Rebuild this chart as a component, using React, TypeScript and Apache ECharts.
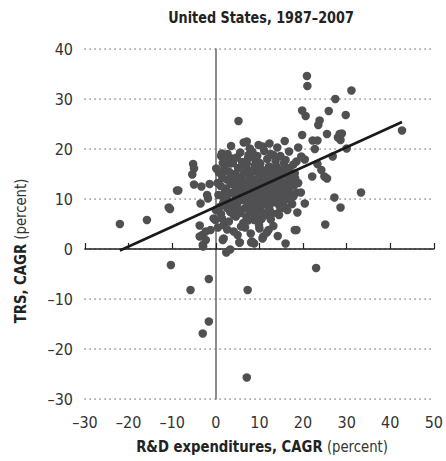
import React, { useEffect, useRef } from "react";
import * as echarts from "echarts";

const chartTitle = "United States, 1987–2007";
const xTitleBold = "R&D expenditures, CAGR";
const yTitleBold = "TRS, CAGR";
const unitText = " (percent)";

const xMin = -30;
const xMax = 50;
const yMin = -30;
const yMax = 40;
const tickStep = 10;

// R&D CAGR (x) vs TRS CAGR (y), percent
const outerPoints: number[][] = [
  [-22, 5], [-15.8, 5.8], [-10.8, 8.3], [-10.5, 8], [-8.9, 11.7], [-8.6, 11.7],
  [-5.2, 17], [-5, 16.1], [-5.4, 14.9], [-5, 12.9], [-3.3, 12.5], [-1.4, 13],
  [-2, 10.8], [-1.8, 10.1], [-3.5, 9.1], [-3.7, 4.7], [-3.1, 2.8], [-3.7, 2.5],
  [-2.3, 3.5], [-1.2, 3.8], [-3, 0.8], [-2.3, 1.8], [-2.9, 0.5],
  [0.1, 16.1], [1.4, 19.1], [1.8, 18.8], [5.2, 25.6], [6.4, 21.3], [7.1, 21.5],
  [9.8, 20.8], [12.3, 21.1], [15.8, 21.6], [1.8, 2.1], [2.4, -0.7], [3.3, -0.1],
  [5.4, 1.3], [8.3, 1.5], [10.7, 2.1], [16, 1.1], [18.1, 3.8], [-0.1, 5.8],
  [1.6, 1.8], [8.8, 1.1],
  [-10.3, -3.2], [-1.6, -6], [-5.8, -8.2], [7.3, -8.2], [-1.6, -14.5], [-3, -16.9],
  [7.1, -25.7], [23, -3.8],
  [20.9, 34.6], [21, 32.6], [27.4, 30], [31.1, 31.7], [19.8, 27.7], [20.6, 26.6],
  [25.9, 27.6], [29.8, 26.8], [23.8, 25.7], [23.5, 24.8], [19.8, 22.8], [25.5, 23],
  [28.4, 23], [28.9, 23.1], [28, 22.3], [28.6, 21.8], [22.2, 21.7], [23.3, 21.7],
  [22.7, 20], [18.9, 20.3], [16.8, 19.5], [30, 20.1], [26.8, 18.5], [19.6, 18.5],
  [20.4, 17.9], [16, 17.8], [18.5, 17.5], [23.3, 17], [24.2, 15.8], [24.9, 14.5],
  [25.5, 14.1], [22.1, 14.5], [17.7, 15], [18.2, 14.1], [18.9, 13.2], [17.9, 13],
  [14.7, 15.8], [14.9, 13.5], [18.5, 11.3], [19.5, 11.3], [33.3, 11.3], [27.2, 10.3],
  [20.4, 9.1], [28.6, 8.3], [16, 8.3], [18.7, 7.3], [14.3, 7.2], [25.1, 4.9],
  [18.5, 3.8], [42.7, 23.7], [13.2, 18.8], [13.9, 16.5], [10.2, 17.1], [18.1, 15.1],
  [17.3, 14.8], [16.6, 13.6], [13.9, 11.5], [11.3, 6.8], [9, 6.5], [10, 4.1],
  [11.7, 3.3], [10.9, 2.5], [3.7, 18.1], [3.3, 17.1], [7.5, 18.8], [7.1, 17.1],
  [1.4, 15.1], [0, 7.8], [-0.5, 6.1], [1.4, 6.1], [1.8, 4.8], [4.1, 3.5], [5.8, 4.5],
  [1.2, 18.6], [3.3, 17.8], [5.5, 1.3], [8.1, 1.3],
];

const clusterPoints: number[][] = [
  [1.5, 14.2], [2.3, 12.1], [2.8, 9.6], [3.1, 15.4], [3.6, 11.2], [4.0, 13.6],
  [4.2, 8.3], [4.7, 10.4], [5.1, 16.2], [5.3, 12.8], [5.6, 7.2], [5.9, 14.6],
  [6.2, 9.8], [6.4, 11.9], [6.8, 13.4], [7.0, 6.4], [7.2, 15.8], [7.5, 10.6],
  [7.7, 8.9], [8.0, 12.4], [8.2, 14.1], [8.5, 11.2], [8.7, 9.5], [8.9, 16.7],
  [9.2, 13.0], [9.4, 7.6], [9.6, 10.3], [9.9, 12.0], [10.1, 14.6], [10.4, 8.7],
  [10.6, 11.5], [10.9, 13.5], [11.2, 9.9], [11.4, 15.3], [11.7, 12.6], [12.0, 10.8],
  [12.3, 7.9], [12.5, 14.0], [12.8, 11.8], [13.1, 9.3], [13.4, 16.1], [13.6, 12.9],
  [14.0, 10.5], [14.3, 13.8], [14.6, 8.6], [15.0, 11.7], [15.3, 15.0], [15.8, 12.2],
  [16.2, 10.0], [16.6, 13.5],
  [0.6, 10.8], [0.9, 8.4], [1.1, 12.6], [1.9, 10.1], [2.0, 16.3], [2.5, 13.9],
  [3.3, 7.4], [3.8, 9.0], [4.4, 15.0], [4.9, 12.0], [5.0, 9.3], [5.5, 10.9],
  [5.8, 13.1], [6.0, 17.4], [6.6, 8.1], [6.9, 11.0], [7.3, 12.9], [7.8, 14.8],
  [8.3, 10.0], [8.6, 13.5], [9.0, 11.8], [9.3, 15.5], [9.7, 9.0], [10.0, 17.2],
  [10.3, 12.8], [10.8, 10.2], [11.0, 6.8], [11.5, 11.0], [11.9, 13.8], [12.2, 16.5],
  [12.7, 9.7], [13.0, 12.2], [13.3, 14.7], [13.8, 11.3], [14.2, 9.2], [14.8, 14.3],
  [15.5, 9.4], [16.0, 16.4], [16.8, 11.3], [17.2, 14.2], [17.5, 9.0], [18.0, 12.8],
  [3.0, 5.5], [4.6, 6.5], [6.3, 5.2], [8.8, 5.8], [9.9, 4.8], [12.6, 5.9],
  [14.5, 6.8], [7.4, 18.2], [9.5, 18.6], [11.8, 18.0], [13.7, 17.6], [4.8, 18.3],
  [2.7, 19.0], [8.4, 19.4], [15.6, 17.2], [6.7, 4.3], [13.2, 4.6], [1.2, 7.0],
  [16.4, 7.8], [11.1, 19.6], [3.9, 17.2], [5.2, 8.0], [7.9, 7.3], [10.5, 6.0],
  [12.1, 8.5], [14.9, 10.6], [2.1, 11.4], [0.4, 13.2],
  [2.6, 8.2], [3.4, 13.0], [4.3, 10.9], [4.5, 12.4], [5.4, 14.0], [6.1, 12.6],
  [6.5, 15.2], [7.1, 9.4], [7.6, 13.8], [8.1, 15.6], [8.4, 8.2], [9.1, 10.9],
  [9.5, 14.0], [10.2, 9.6], [10.7, 15.8], [11.3, 12.0], [11.6, 8.9], [12.4, 12.8],
  [12.9, 15.2], [13.5, 10.2], [14.1, 12.3], [14.4, 15.8], [15.2, 13.0], [15.7, 10.8],
  [16.3, 14.8], [17.0, 12.4], [17.8, 10.5], [6.9, 16.4], [5.7, 11.6], [3.9, 14.5],
  [2.9, 11.0], [1.7, 9.2], [9.8, 16.0], [11.9, 14.6], [13.9, 13.4], [8.9, 7.0],
  [10.6, 7.4], [7.4, 5.7], [4.1, 6.8], [12.9, 7.1], [15.1, 8.2], [0.7, 15.3],
  [1.6, 17.2], [2.4, 17.8], [5.6, 19.3], [9.0, 17.9], [12.6, 19.0], [14.8, 18.6],
  [16.9, 16.2], [17.8, 16.9], [3.5, 20.6], [10.8, 20.5], [7.8, 20.1], [14.1, 20.3],
  [0.5, 4.3], [2.6, 3.9], [5.0, 2.8], [8.0, 3.1], [12.1, 3.8], [14.2, 2.6],
];

const trendLine: number[][] = [
  [-22, -0.3],
  [42.7, 25.4],
];

const FONT = "'Liberation Sans Narrow', 'DejaVu Sans Condensed', 'Roboto', sans-serif";

export default function App() {
  const ref = useRef<HTMLDivElement>(null);

  useEffect(() => {
    document.body.style.margin = "0";
    if (!ref.current) return;
    const chart = echarts.init(ref.current, undefined, { renderer: "svg" });

    const gridLeft = 85;
    const gridTop = 49;
    const gridWidth = 352;
    const gridHeight = 350;
    const negFmt = (v: number) => (v < 0 ? "–" + Math.abs(v) : String(v));

    chart.setOption({
      animation: false,
      backgroundColor: "#ffffff",
      textStyle: { fontFamily: FONT },
      grid: { left: gridLeft, top: gridTop, width: gridWidth, height: gridHeight, containLabel: false },
      xAxis: [
        {
          type: "value",
          min: xMin,
          max: xMax,
          interval: tickStep,
          position: "bottom",
          axisLine: { show: false, onZero: false },
          axisTick: { show: false },
          splitLine: { show: false },
          axisLabel: {
            fontFamily: FONT,
            fontSize: 16,
            color: "#333",
            margin: 15,
            formatter: negFmt,
          },
        },
        {
          type: "value",
          min: xMin,
          max: xMax,
          interval: tickStep,
          position: "bottom",
          axisLine: { show: true, onZero: true, lineStyle: { color: "#222", width: 1.5 } },
          axisTick: { show: true, inside: true, length: 6, lineStyle: { color: "#222", width: 1.2 } },
          axisLabel: { show: false },
          splitLine: { show: false },
        },
      ],
      yAxis: [
        {
          type: "value",
          min: yMin,
          max: yMax,
          interval: tickStep,
          axisLine: { show: false, onZero: false },
          axisTick: { show: false },
          axisLabel: {
            fontFamily: FONT,
            fontSize: 16,
            color: "#333",
            margin: 12,
            formatter: negFmt,
          },
          splitLine: {
            show: true,
            lineStyle: { color: "#9a9a9a", width: 1.7, type: [0.3, 4.7], cap: "round" },
          },
        },
        {
          type: "value",
          min: yMin,
          max: yMax,
          interval: tickStep,
          position: "left",
          axisLine: { show: true, onZero: true, lineStyle: { color: "#666", width: 1.5 } },
          axisTick: { show: false },
          axisLabel: { show: false },
          splitLine: { show: false },
        },
      ],
      graphic: [
        {
          type: "text",
          x: gridLeft + gridWidth / 2,
          y: 18,
          scaleX: 0.89,
          style: {
            text: chartTitle,
            fontFamily: FONT,
            fontWeight: "bold",
            fontSize: 16,
            fill: "#222",
            textAlign: "center",
            textVerticalAlign: "middle",
          },
        },
        {
          type: "text",
          x: 262,
          y: 447,
          scaleX: 0.92,
          style: {
            text: "{b|" + xTitleBold + "}{r|" + unitText + "}",
            textAlign: "center",
            textVerticalAlign: "middle",
            rich: {
              b: { fontFamily: FONT, fontWeight: "bold", fontSize: 16, fill: "#222" },
              r: { fontFamily: FONT, fontSize: 16, fill: "#333" },
            },
          },
        },
        {
          type: "text",
          x: 21,
          y: 251,
          rotation: Math.PI / 2,
          scaleX: 0.92,
          style: {
            text: "{b|" + yTitleBold + "}{r|" + unitText + "}",
            textAlign: "center",
            textVerticalAlign: "middle",
            rich: {
              b: { fontFamily: FONT, fontWeight: "bold", fontSize: 16, fill: "#222" },
              r: { fontFamily: FONT, fontSize: 16, fill: "#333" },
            },
          },
        },
      ],
      series: [
        {
          type: "scatter",
          xAxisIndex: 0,
          yAxisIndex: 0,
          data: [...outerPoints, ...clusterPoints],
          symbol: "circle",
          symbolSize: 8.5,
          itemStyle: { color: "#505052", opacity: 1 },
          z: 3,
        },
        {
          type: "line",
          xAxisIndex: 0,
          yAxisIndex: 0,
          data: trendLine,
          symbol: "none",
          lineStyle: { color: "#1a1a1a", width: 2.5 },
          z: 5,
          silent: true,
        },
      ],
    });

    return () => {
      chart.dispose();
    };
  }, []);

  return <div ref={ref} style={{ width: 446, height: 461 }} />;
}
